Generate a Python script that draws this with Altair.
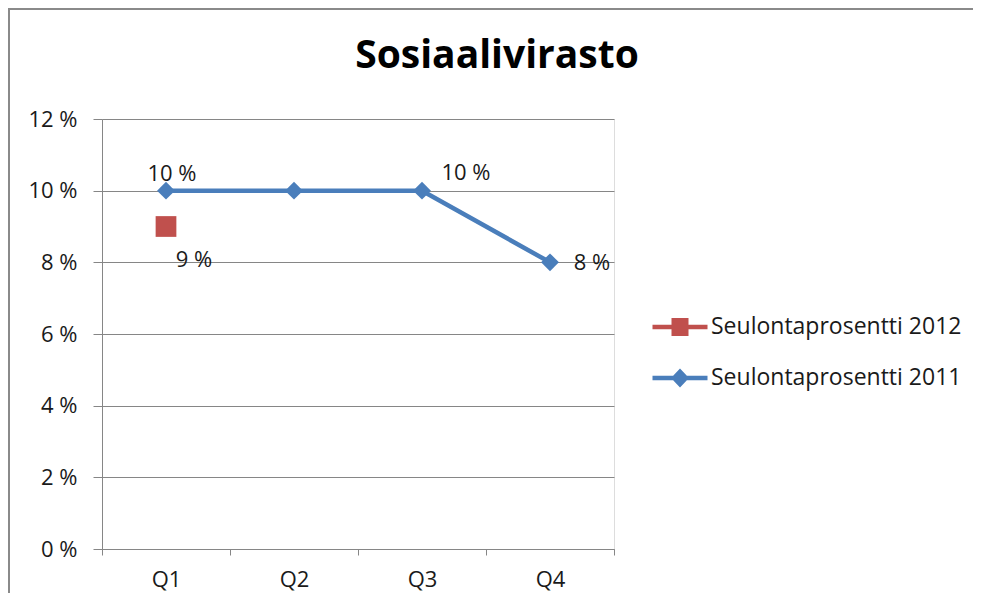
import altair as alt
import pandas as pd

# ---- data ----
quarters = ["Q1", "Q2", "Q3", "Q4"]
name_2012 = "Seulontaprosentti 2012"
name_2011 = "Seulontaprosentti 2011"
values_2011 = [10, 10, 10, 8]
values_2012 = [9, None, None, None]
y_ticks = [0, 2, 4, 6, 8, 10, 12]
series_order = [name_2012, name_2011]
series_colors = ["#C0504D", "#4A7EBB"]
chart_title = "Sosiaalivirasto"

FONT = "Open Sans"
FS = 22
GRAY = "#868686"
TEXT = "#1a1a1a"
RED, BLUE = series_colors

rows = []
for q, v in zip(quarters, values_2011):
    rows.append({"quarter": q, "series": name_2011, "value": v})
for q, v in zip(quarters, values_2012):
    if v is not None:
        rows.append({"quarter": q, "series": name_2012, "value": v})
df = pd.DataFrame(rows)
df["label"] = df["value"].astype(int).astype(str) + " %"

x_enc = alt.X(
    "quarter:N",
    sort=quarters,
    scale=alt.Scale(type="band", domain=quarters, paddingInner=0, paddingOuter=0),
    axis=alt.Axis(
        title=None, labelAngle=0, grid=False, tickBand="extent",
        domainColor=GRAY, tickColor=GRAY, tickSize=6, labelPadding=14,
        labelFont=FONT, labelFontSize=FS, labelColor=TEXT,
    ),
)
y_enc = alt.Y(
    "value:Q",
    scale=alt.Scale(domain=[0, 12], nice=False),
    axis=alt.Axis(
        title=None, values=y_ticks, labelExpr="datum.value + ' %'",
        grid=True, gridColor=GRAY, domainColor=GRAY, tickColor=GRAY,
        tickSize=9, labelPadding=16, labelFont=FONT, labelFontSize=FS,
        labelColor=TEXT,
    ),
)
color_scale = alt.Scale(domain=series_order, range=series_colors)

base = alt.Chart(df).encode(x=x_enc, y=y_enc)

line = base.transform_filter(alt.datum.series == name_2011).mark_line(
    strokeWidth=4.5, color=BLUE
)

pts_2011 = base.transform_filter(alt.datum.series == name_2011).mark_point(
    shape="diamond", filled=True, size=320, opacity=1, color=BLUE
)

pts_2012 = base.transform_filter(alt.datum.series == name_2012).mark_point(
    shape="square", filled=True, size=430, opacity=1, color=RED
)

def label_layer(series, quarter, dx, dy):
    return base.transform_filter(
        (alt.datum.series == series) & (alt.datum.quarter == quarter)
    ).mark_text(
        dx=dx, dy=dy, align="center", baseline="middle",
        font=FONT, fontSize=FS, color=TEXT,
    ).encode(text="label:N")

labels = [
    label_layer(name_2011, "Q1", 6, -17),
    label_layer(name_2011, "Q3", 44, -18),
    label_layer(name_2011, "Q4", 42, 1),
    label_layer(name_2012, "Q1", 28, 33),
]

# legend symbols: line with marker, as custom paths
legend_paths = [
    "M-1.1,-0.09H1.1V0.09H-1.1Z M-0.34,-0.36H0.34V0.36H-0.34Z",
    "M-1.1,-0.09H1.1V0.09H-1.1Z M0,-0.38L0.36,0L0,0.38L-0.36,0Z",
]
leg = alt.Legend(
    title=None, orient="none", legendX=553, legendY=183,
    symbolSize=2500, symbolStrokeWidth=0, symbolOpacity=1,
    labelFont=FONT, labelFontSize=23, labelColor=TEXT, labelOffset=6,
    labelLimit=0, rowPadding=14, padding=0, labelBaseline="middle",
)
legend_layer = base.transform_filter("false").mark_point(filled=True).encode(
    color=alt.Color("series:N", scale=color_scale, legend=leg),
    shape=alt.Shape("series:N", scale=alt.Scale(domain=series_order, range=legend_paths), legend=leg),
)

one = pd.DataFrame({"t": [chart_title]})
title_layer = alt.Chart(one).mark_text(
    font=FONT, fontSize=39, fontWeight="bold", align="center",
    baseline="alphabetic", color="#000000",
).encode(text="t:N", x=alt.value(395), y=alt.value(-51))

frame_left = alt.Chart(one).mark_rule(color="#8a8a8a", strokeWidth=2).encode(
    x=alt.value(-93), y=alt.value(-111), y2=alt.value(480)
)
frame_top = alt.Chart(one).mark_rule(color="#8a8a8a", strokeWidth=2).encode(
    x=alt.value(-94), x2=alt.value(880), y=alt.value(-110)
)

chart = alt.layer(
    frame_left, frame_top, title_layer, line, pts_2011, pts_2012, *labels, legend_layer
).properties(
    width=512, height=430,
    autosize=alt.AutoSizeParams(type="none"),
    padding={"left": 94, "top": 111, "right": 359, "bottom": 44},
).configure_view(stroke=None).configure(background="white")

chart.save("out.html", embed_options={"renderer": "svg", "actions": False})
